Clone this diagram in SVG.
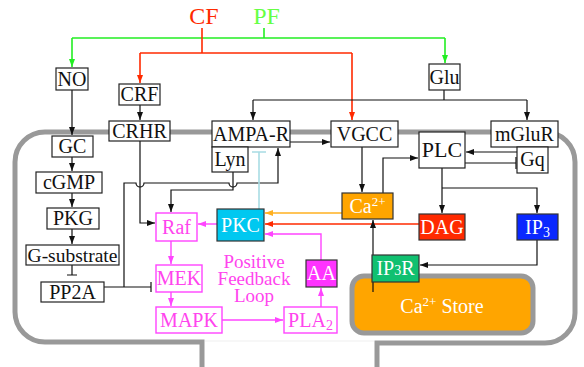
<svg xmlns="http://www.w3.org/2000/svg" width="584" height="367" viewBox="0 0 584 367">
<defs>
<style>
text{font-family:"Liberation Serif","Times New Roman",serif;font-size:20px;text-anchor:middle}
.box{fill:#fff;stroke:#222;stroke-width:1.2}
.mbox{fill:#fff;stroke:#ff44ff;stroke-width:1.4}
.fbox{stroke:#333;stroke-width:1.2}
.lbl{fill:#111}
.mlbl{fill:#ff44ee}
.wlbl{fill:#fff}
.ln{fill:none;stroke:#111;stroke-width:1.2}
.red{fill:none;stroke:#ff2a00;stroke-width:1.6}
.grn{fill:none;stroke:#22ee22;stroke-width:1.6}
.org{fill:none;stroke:#ffb020;stroke-width:1.4}
.mag{fill:none;stroke:#ff44ff;stroke-width:1.4}
.cy{fill:none;stroke:#a8dce4;stroke-width:1.6}
.ab{marker-end:url(#ak)}
.ar{marker-end:url(#ar)}
.ag{marker-end:url(#ag)}
.ao{marker-end:url(#ao)}
.am{marker-end:url(#am)}
</style>
<marker id="ak" viewBox="0 0 8 6" refX="8" refY="3" markerWidth="8" markerHeight="6" markerUnits="userSpaceOnUse" orient="auto"><path d="M0,0L8,3L0,6z" fill="#111"/></marker>
<marker id="ar" viewBox="0 0 8 6" refX="8" refY="3" markerWidth="8" markerHeight="6" markerUnits="userSpaceOnUse" orient="auto"><path d="M0,0L8,3L0,6z" fill="#ff2a00"/></marker>
<marker id="ag" viewBox="0 0 8 6" refX="8" refY="3" markerWidth="8" markerHeight="6" markerUnits="userSpaceOnUse" orient="auto"><path d="M0,0L8,3L0,6z" fill="#22ee22"/></marker>
<marker id="ao" viewBox="0 0 8 6" refX="8" refY="3" markerWidth="8" markerHeight="6" markerUnits="userSpaceOnUse" orient="auto"><path d="M0,0L8,3L0,6z" fill="#ffb020"/></marker>
<marker id="am" viewBox="0 0 8 6" refX="8" refY="3" markerWidth="8" markerHeight="6" markerUnits="userSpaceOnUse" orient="auto"><path d="M0,0L8,3L0,6z" fill="#ff44ff"/></marker>
</defs>
<rect width="584" height="367" fill="#fff"/>

<g id="membrane">
<path d="M202,367V342H45A30,30 0 0 1 15,312V162A30,30 0 0 1 45,132H545A30,30 0 0 1 575,162V313A30,30 0 0 1 545,343H377V367" fill="none" stroke="#999" stroke-width="5"/>
<line x1="205" y1="341" x2="374" y2="341" stroke="#efefef" stroke-width="1"/>
</g>

<g id="inputs">
<text x="204" y="24" style="font-size:24px" fill="#ff2a00">CF</text>
<text x="266.5" y="24" style="font-size:24px" fill="#66ff44">PF</text>
</g>

<g id="ca-store">
<rect x="352" y="276" width="181" height="57" rx="12" fill="#ffa500" stroke="#999" stroke-width="5"/>
<text x="442" y="313" class="wlbl">Ca<tspan dy="-7" style="font-size:13px">2+</tspan><tspan dy="7"> Store</tspan></text>
</g>

<g id="connectors">
<path class="grn" d="M264,28V38"/>
<path class="grn" d="M72,38H445"/>
<path class="grn ag" d="M72,38V67"/>
<path class="grn ag" d="M445,38V63"/>
<path class="red" d="M202,28V53"/>
<path class="red" d="M140,53H352"/>
<path class="red ar" d="M140,53V83"/>
<path class="red ar" d="M352,53V120"/>
<path class="ln ab" d="M72,90V135"/>
<path class="ln ab" d="M72,157V171"/>
<path class="ln ab" d="M72,193V207"/>
<path class="ln ab" d="M72,229V244"/>
<path class="ln" d="M72,265V275M67,275H77"/>
<path class="ln" d="M104,287H151M151,282V292"/>
<path class="ln ab" d="M124,287V183H136A4,4 0 0 0 144,183H229A4,4 0 0 0 237,183H278V148"/>
<path class="ln ab" d="M140,105V120"/>
<path class="ln ab" d="M140,141V223H155"/>
<path class="ln ab" d="M233,172V190H171V212"/>
<path class="ln" d="M444,90V100M253,100H527"/>
<path class="ln ab" d="M253,100V120"/>
<path class="ln ab" d="M527,100V120"/>
<path class="ln ab" d="M290,142H330"/>
<path class="cy" d="M259,209V152M252,152H266"/>
<path class="ln ab" d="M362,147V192"/>
<path class="ln ab" d="M383,193V158H418"/>
<path class="ln ab" d="M517,152H466"/>
<path class="ln" d="M465,163H516M516,157V169"/>
<path class="ln ab" d="M442,168V213"/>
<path class="ln ab" d="M442,188H537V213"/>
<path class="ln ab" d="M537,240V265H420"/>
<path class="org ao" d="M342,213H265"/>
<path class="red ar" d="M419,224H265"/>
<path class="mag am" d="M321,260V234H265"/>
<path class="ln ab" d="M373,292V220"/>
<path class="mag am" d="M217,224H198"/>
<path class="mag am" d="M171,241V264"/>
<path class="mag am" d="M171,292V306"/>
<path class="mag am" d="M222,320H283"/>
<path class="mag am" d="M321,307V288"/>
</g>

<g id="NO"><rect class="box" x="56" y="68" width="32" height="22"/><text class="lbl" x="72" y="86">NO</text></g>
<g id="CRF"><rect class="box" x="119" y="84" width="41" height="21"/><text class="lbl" x="139.5" y="101">CRF</text></g>
<g id="CRHR"><rect class="box" x="109" y="121" width="61" height="20"/><text class="lbl" x="139.5" y="138">CRHR</text></g>
<g id="AMPA-R"><rect class="box" x="212" y="121" width="78" height="26"/><text class="lbl" x="251" y="141">AMPA-R</text></g>
<g id="Lyn"><rect class="box" x="212" y="147" width="36" height="25"/><text class="lbl" x="230" y="166">Lyn</text></g>
<g id="VGCC"><rect class="box" x="331" y="121" width="67" height="26"/><text class="lbl" x="364.5" y="141">VGCC</text></g>
<g id="Glu"><rect class="box" x="429" y="64" width="31" height="26"/><text class="lbl" x="444.5" y="84">Glu</text></g>
<g id="mGluR"><rect class="box" x="491" y="121" width="67" height="26"/><text class="lbl" x="524.5" y="141">mGluR</text></g>
<g id="PLC"><rect class="box" x="419" y="132" width="46" height="36"/><text class="lbl" x="442" y="157" style="font-size:22px">PLC</text></g>
<g id="Gq"><rect class="box" x="517" y="147" width="31" height="26"/><text class="lbl" x="532.5" y="166">Gq</text></g>
<g id="GC"><rect class="box" x="52" y="136" width="41" height="21"/><text class="lbl" x="72.5" y="153">GC</text></g>
<g id="cGMP"><rect class="box" x="36" y="172" width="66" height="21"/><text class="lbl" x="69" y="189">cGMP</text></g>
<g id="PKG"><rect class="box" x="47" y="208" width="52" height="21"/><text class="lbl" x="73" y="225">PKG</text></g>
<g id="G-substrate"><rect class="box" x="26" y="245" width="93" height="20"/><text class="lbl" x="72.5" y="262" style="font-size:19.5px">G-substrate</text></g>
<g id="PP2A"><rect class="box" x="41" y="282" width="63" height="20"/><text class="lbl" x="72.5" y="299">PP2A</text></g>
<g id="Ca"><rect class="fbox" x="342" y="193" width="51" height="26" fill="#ffa500"/><text class="wlbl" x="367.5" y="213">Ca<tspan dy="-7" style="font-size:13px">2+</tspan></text></g>
<g id="DAG"><rect class="fbox" x="419" y="214" width="46" height="26" fill="#ff2a00"/><text class="wlbl" x="442" y="234">DAG</text></g>
<g id="IP3"><rect class="fbox" x="517" y="214" width="41" height="26" fill="#0a28ff"/><text class="wlbl" x="537.5" y="234">IP<tspan dy="3" style="font-size:14px">3</tspan></text></g>
<g id="IP3R"><rect class="fbox" x="372" y="255" width="47" height="27" fill="#10c070"/><text class="wlbl" x="395.5" y="275">IP<tspan style="font-size:14px">3</tspan>R</text></g>
<g id="PKC"><rect class="fbox" x="217" y="209" width="47" height="32" fill="#00c8f0"/><text class="wlbl" x="240.5" y="232">PKC</text></g>
<g id="Raf"><rect class="mbox" x="156" y="213" width="41" height="28"/><text class="mlbl" x="176.5" y="234">Raf</text></g>
<g id="MEK"><rect class="mbox" x="156" y="265" width="46" height="27"/><text class="mlbl" x="179" y="285">MEK</text></g>
<g id="MAPK"><rect class="mbox" x="156" y="307" width="66" height="26"/><text class="mlbl" x="189" y="327">MAPK</text></g>
<g id="PLA2"><rect class="mbox" x="284" y="307" width="53" height="26"/><text class="mlbl" x="310.5" y="327">PLA<tspan dy="3" style="font-size:14px">2</tspan></text></g>
<g id="AA"><rect class="fbox" x="306" y="260" width="31" height="27" fill="#ff33ff" stroke="#222"/><text class="wlbl" x="321.5" y="280">AA</text></g>
<g id="feedback-label"><text class="mlbl" x="254" style="font-size:19px"><tspan x="254" y="268">Positive</tspan><tspan x="254" y="285">Feedback</tspan><tspan x="254" y="302">Loop</tspan></text></g>
</svg>
